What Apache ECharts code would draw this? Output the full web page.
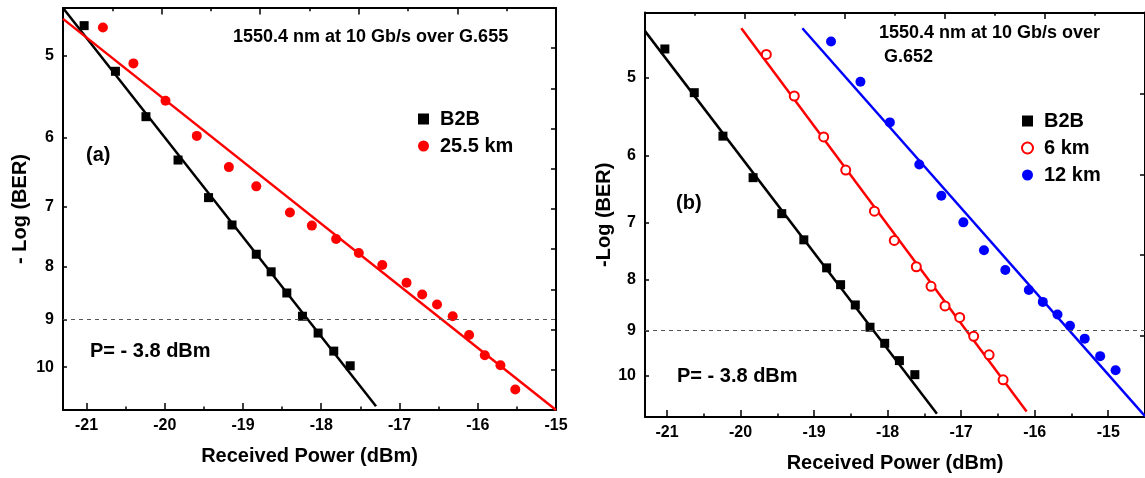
<!DOCTYPE html>
<html>
<head>
<meta charset="utf-8">
<script src="https://cdn.jsdelivr.net/npm/echarts@6/dist/echarts.min.js"></script>
<style>
html, body { margin: 0; padding: 0; background: #fff; }
#chart { width: 1145px; height: 478px; }
</style>
</head>
<body>
<div id="chart"></div>
<script>
// tick values
const powerTicks = [-21, -20, -19, -18, -17, -16, -15]
const powerMinor = [-20.5, -19.5, -18.5, -17.5, -16.5, -15.5]
const berTicks = [5, 6, 7, 8, 9, 10]
const berLimit = 9

// back to back (same in both panels)
const b2bPower = [-21.03, -20.63, -20.24, -19.83, -19.44, -19.14, -18.83, -18.64, -18.44, -18.24, -18.04, -17.84, -17.63]
const b2bBer = [4.68, 5.18, 5.73, 6.31, 6.86, 7.29, 7.78, 8.09, 8.48, 8.93, 9.27, 9.65, 9.97]

// (a) 25.5 km G.655
const km25Power = [-20.79, -20.40, -19.99, -19.59, -19.18, -18.83, -18.40, -18.12, -17.81, -17.52, -17.22, -16.91, -16.71, -16.52, -16.32, -16.11, -15.91, -15.71, -15.52]
const km25Ber = [4.70, 5.09, 5.53, 5.98, 6.41, 6.69, 7.09, 7.30, 7.52, 7.76, 7.97, 8.29, 8.51, 8.70, 8.93, 9.31, 9.74, 9.96, 10.51]

// (b) 6 km and 12 km G.652
const km6Power = [-19.65, -19.27, -18.87, -18.57, -18.18, -17.91, -17.61, -17.41, -17.22, -17.02, -16.83, -16.62, -16.43]
const km6Ber = [4.74, 5.22, 5.74, 6.20, 6.82, 7.30, 7.76, 8.12, 8.50, 8.73, 9.12, 9.52, 10.09]
const km12Power = [-18.77, -18.37, -17.97, -17.57, -17.27, -16.97, -16.69, -16.40, -16.08, -15.89, -15.69, -15.52, -15.32, -15.11, -14.90]
const km12Ber = [4.60, 5.05, 5.55, 6.12, 6.58, 7.00, 7.47, 7.82, 8.19, 8.42, 8.67, 8.90, 9.17, 9.55, 9.87]

// fitted lines (end points)
const fitA_b2bPower = [-21.3, -17.3]
const fitA_b2bBer = [4.50, 10.91]
const fitA_km25Power = [-21.3, -15.0]
const fitA_km25Ber = [4.61, 11.0]
const fitB_b2bPower = [-21.3, -17.33]
const fitB_b2bBer = [4.49, 10.92]
const fitB_km6Power = [-19.99, -16.11]
const fitB_km6Ber = [4.46, 10.86]
const fitB_km12Power = [-19.16, -14.5]
const fitB_km12Ber = [4.46, 10.98]

const FONT = '"Liberation Sans", Arial, sans-serif'
const pair = (xs, ys) => xs.map((x, i) => [x, ys[i]])

const chart = echarts.init(document.getElementById('chart'))

// one panel = main bottom axis, minor bottom ticks, top ticks, log left axis, right ticks
function panelAxes(g, xMin, xMax, yMin, yMax, rightSplits, yName, nameGapY) {
  const line = { show: true, lineStyle: { color: '#000', width: 2 } }
  const xAxes = [
    {
      gridIndex: g, type: 'value', position: 'bottom', min: xMin, max: xMax,
      axisLine: line,
      axisTick: { inside: true, length: 7, customValues: powerTicks, lineStyle: { width: 1.5, color: '#000' } },
      axisLabel: { customValues: powerTicks, color: '#000', fontSize: 16, fontWeight: 'bold', fontFamily: FONT, margin: 8 },
      splitLine: { show: false },
      name: 'Received Power (dBm)', nameLocation: 'middle', nameGap: 36,
      nameTextStyle: { color: '#000', fontSize: 20, fontWeight: 'bold', fontFamily: FONT }
    },
    {
      gridIndex: g, type: 'value', position: 'bottom', min: xMin, max: xMax,
      axisLine: { show: false },
      axisTick: { inside: true, length: 3.5, customValues: powerMinor, lineStyle: { width: 1.5, color: '#000' } },
      axisLabel: { show: false }, splitLine: { show: false }
    },
    {
      gridIndex: g, type: 'value', position: 'top', min: 0, max: 10, interval: 2,
      axisLine: line,
      axisTick: { inside: true, length: 6.5, lineStyle: { width: 1.5, color: '#000' } },
      minorTick: { show: true, splitNumber: 2, length: 3.3, lineStyle: { width: 1.5, color: '#000' } },
      axisLabel: { show: false }, splitLine: { show: false }
    }
  ]
  const yAxes = [
    {
      gridIndex: g, type: 'log', logBase: 10, min: yMin, max: yMax, inverse: true,
      axisLine: line,
      axisTick: { inside: true, length: 4, customValues: berTicks, lineStyle: { width: 1.5, color: '#000' } },
      axisLabel: { customValues: berTicks, color: '#000', fontSize: 16, fontWeight: 'bold', fontFamily: FONT, margin: 9, formatter: v => String(Math.round(v)) },
      splitLine: { show: false }, minorTick: { show: false },
      name: yName, nameLocation: 'middle', nameGap: nameGapY,
      nameTextStyle: { color: '#000', fontSize: 20, fontWeight: 'bold', fontFamily: FONT }
    },
    {
      gridIndex: g, type: 'value', position: 'right', min: 0, max: rightSplits, interval: 1,
      axisLine: line,
      axisTick: { inside: true, length: 5, lineStyle: { width: 1.5, color: '#000' } },
      axisLabel: { show: false }, splitLine: { show: false }
    }
  ]
  return { xAxes, yAxes }
}

const pa = panelAxes(0, -21.3, -15, 4.5, 11, 10, '- Log (BER)', 33)
const pb = panelAxes(1, -21.3, -14.5, 4.3, 11, 5, '-Log (BER)', 30)

function scatter(name, xi, yi, xs, ys, symbol, size, color) {
  return {
    name, type: 'scatter', xAxisIndex: xi, yAxisIndex: yi,
    symbol, symbolSize: size, data: pair(xs, ys),
    itemStyle: symbol === 'emptyCircle'
      ? { color: color, borderColor: color, borderWidth: 1, opacity: 1 }
      : { color: color, opacity: 1 },
    z: 3
  }
}
function fit(name, xi, yi, xs, ys, color) {
  return {
    name, type: 'line', xAxisIndex: xi, yAxisIndex: yi, data: pair(xs, ys),
    showSymbol: false, symbol: 'none', lineStyle: { color: color, width: 2.5 }, z: 2
  }
}
function limitLine(xi, yi) {
  return {
    name: 'limit', type: 'line', xAxisIndex: xi, yAxisIndex: yi, data: [],
    markLine: {
      silent: true, symbol: 'none', label: { show: false },
      lineStyle: { color: '#555', type: [4, 4], width: 1.2 },
      data: [{ yAxis: berLimit }]
    }
  }
}

const textStyle = (x, y, text, size) => ({
  type: 'text', left: x, top: y,
  style: { text: text, fill: '#000', font: 'bold ' + size + 'px ' + FONT }
})

const legendText = { color: '#000', fontSize: 20, fontWeight: 'bold', fontFamily: FONT, padding: [0, 0, 0, 6] }

const option = {
  animation: false,
  backgroundColor: '#fff',
  grid: [
    { left: 63, top: 8, width: 493, height: 402 },
    { left: 645, top: 12.5, width: 505, height: 409 }
  ],
  xAxis: pa.xAxes.concat(pb.xAxes),
  yAxis: pa.yAxes.concat(pb.yAxes),
  legend: [
    {
      data: ['B2B', '25.5 km'], orient: 'vertical', left: 413, top: 104,
      itemWidth: 11, itemHeight: 11, itemGap: 7, textStyle: legendText
    },
    {
      data: ['B2B', '6 km', '12 km'], orient: 'vertical', left: 1016, top: 106,
      itemWidth: 11, itemHeight: 11, itemGap: 7, textStyle: legendText
    }
  ],
  graphic: [
    textStyle(233, 28, '1550.4 nm at 10 Gb/s over G.655', 18),
    textStyle(86, 145, '(a)', 20),
    textStyle(90, 341, 'P= - 3.8 dBm', 20),
    textStyle(879, 24, '1550.4 nm at 10 Gb/s over', 18),
    textStyle(884, 48, 'G.652', 18),
    textStyle(676, 193, '(b)', 20),
    textStyle(677, 366, 'P= - 3.8 dBm', 20)
  ],
  series: [
    fit('fit a b2b', 0, 0, fitA_b2bPower, fitA_b2bBer, '#000'),
    fit('fit a 25.5', 0, 0, fitA_km25Power, fitA_km25Ber, '#ff0000'),
    limitLine(0, 0),
    scatter('B2B', 0, 0, b2bPower, b2bBer, 'rect', 9, '#000'),
    scatter('25.5 km', 0, 0, km25Power, km25Ber, 'circle', 10, '#ff0000'),

    fit('fit b b2b', 3, 2, fitB_b2bPower, fitB_b2bBer, '#000'),
    fit('fit b 6', 3, 2, fitB_km6Power, fitB_km6Ber, '#ff0000'),
    fit('fit b 12', 3, 2, fitB_km12Power, fitB_km12Ber, '#0000ff'),
    limitLine(3, 2),
    scatter('B2B', 3, 2, b2bPower, b2bBer, 'rect', 9, '#000'),
    scatter('6 km', 3, 2, km6Power, km6Ber, 'emptyCircle', 9, '#ff0000'),
    scatter('12 km', 3, 2, km12Power, km12Ber, 'circle', 10, '#0000ff')
  ]
}
chart.setOption(option)
</script>
</body>
</html>
